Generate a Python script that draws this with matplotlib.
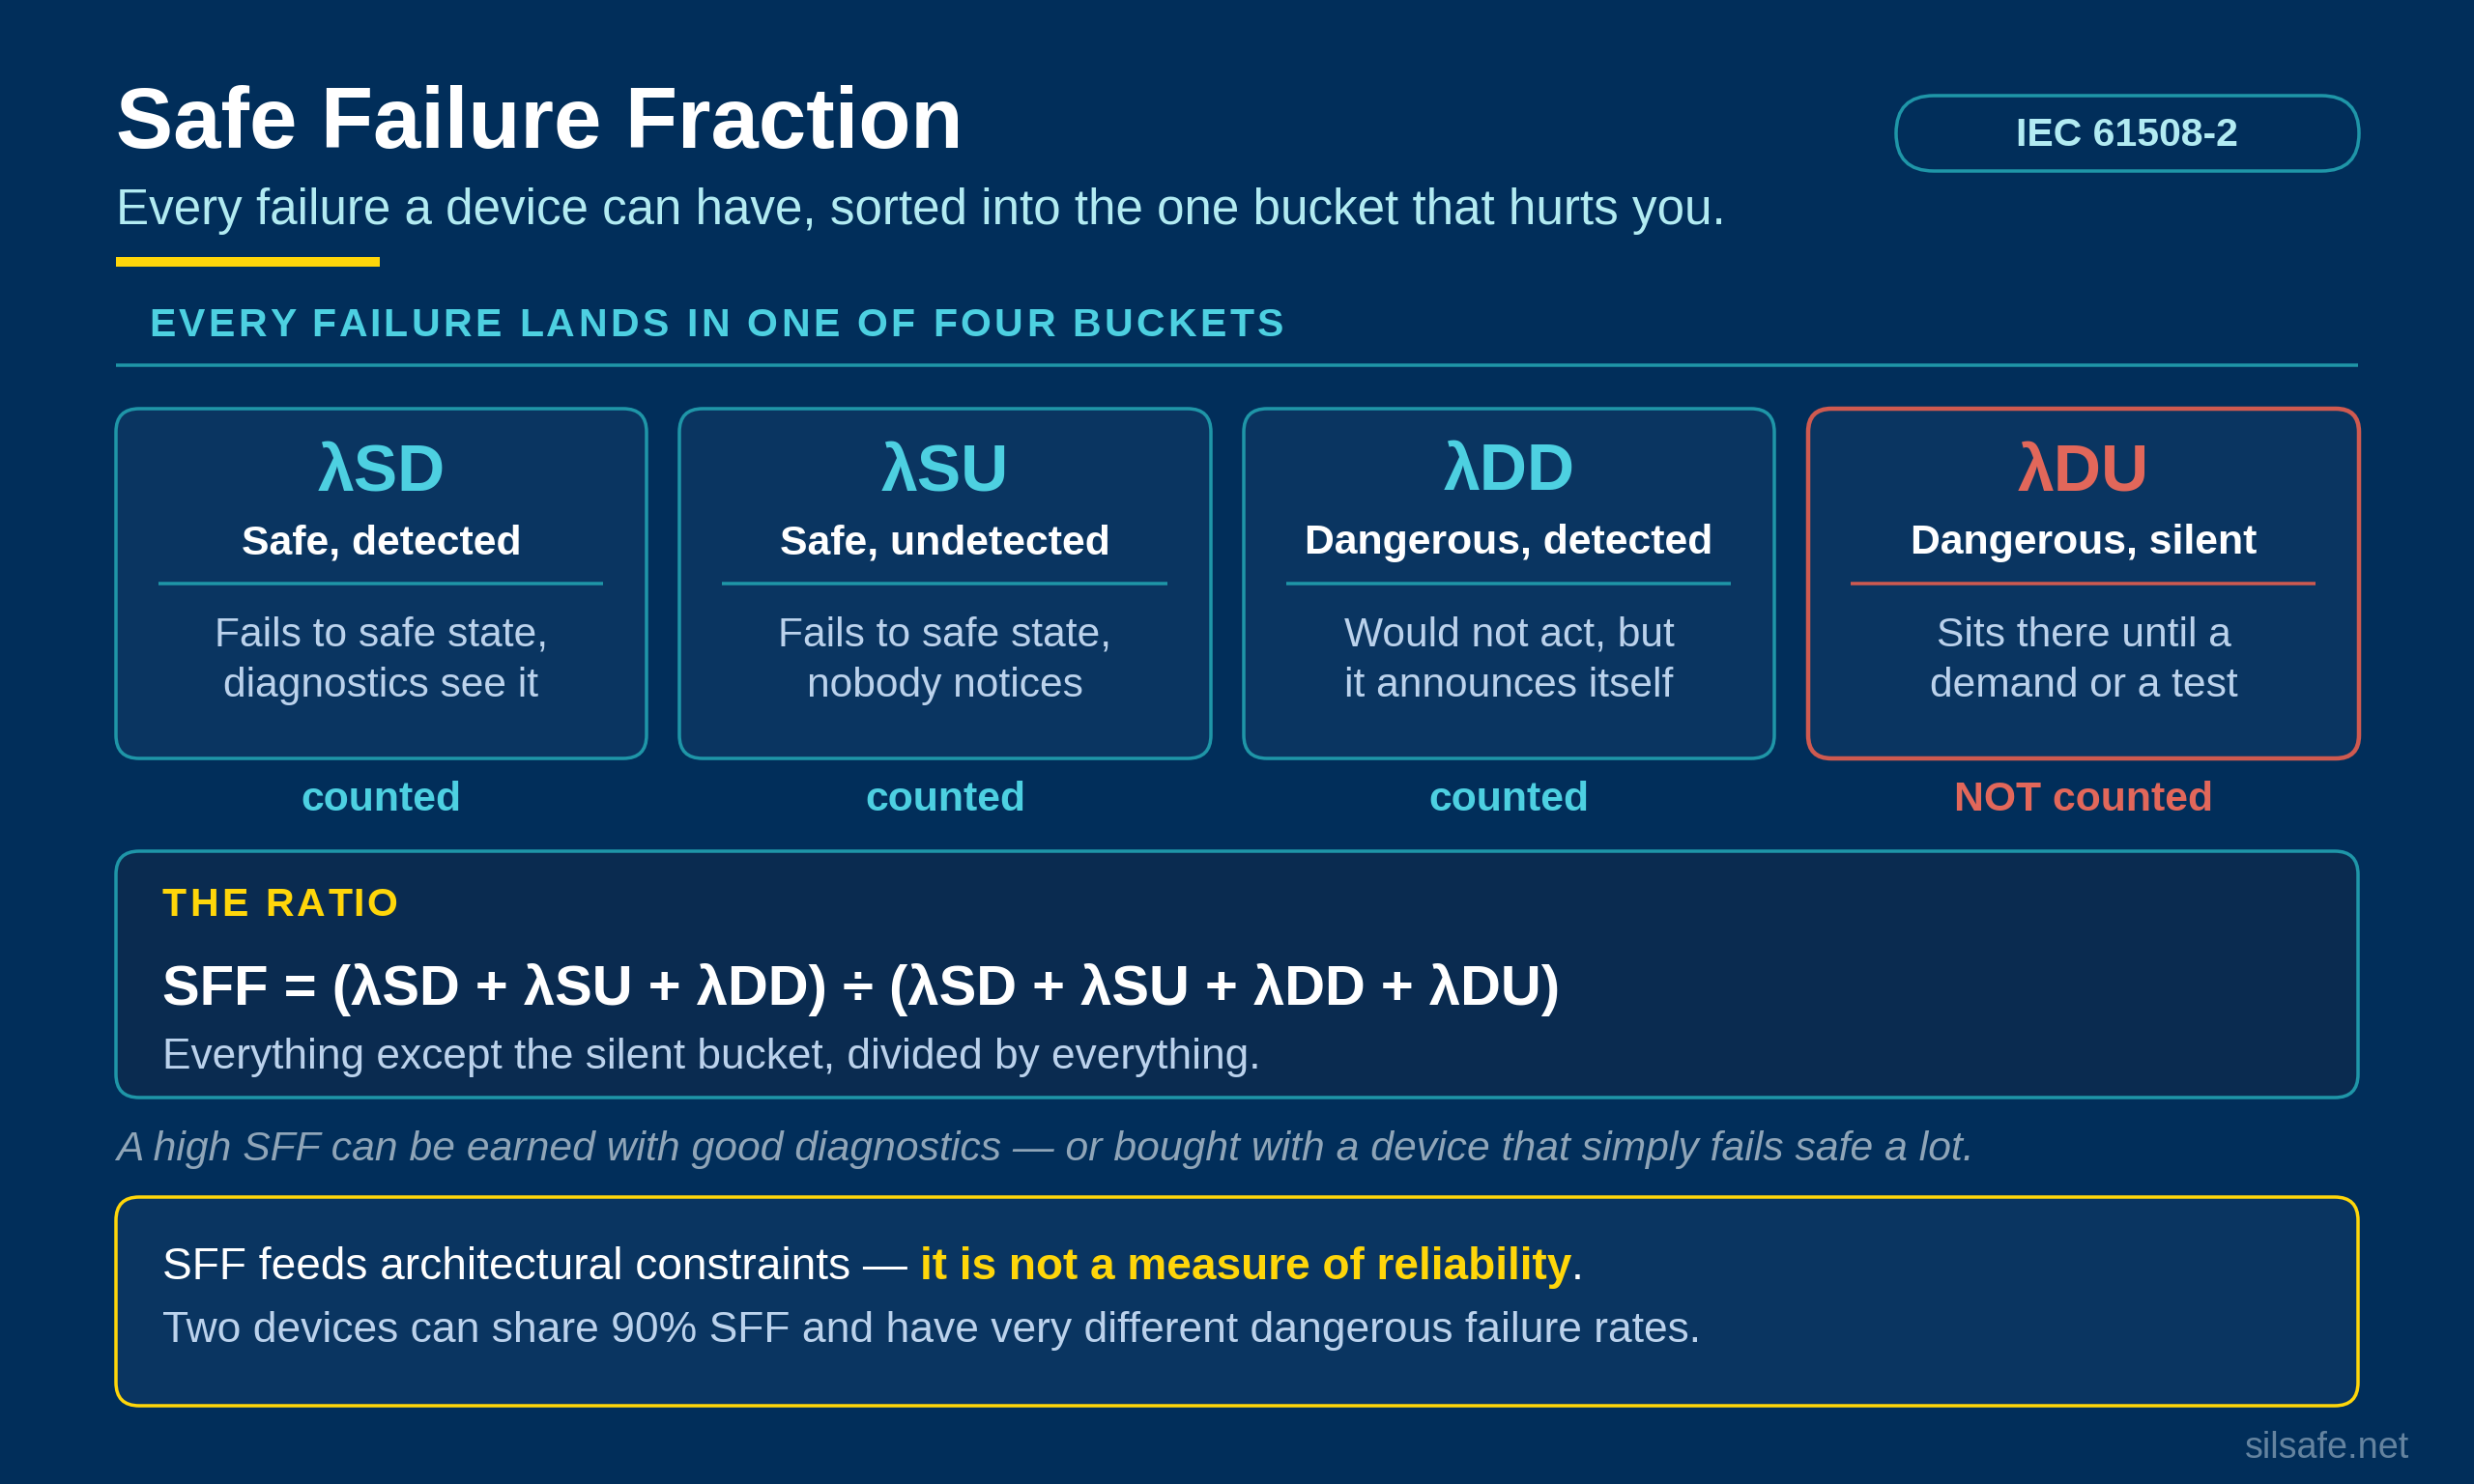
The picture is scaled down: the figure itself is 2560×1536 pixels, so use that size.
import matplotlib
matplotlib.use("Agg")
import matplotlib.pyplot as plt
from matplotlib.patches import FancyBboxPatch, Rectangle

plt.rcParams["font.family"] = ["Liberation Sans", "DejaVu Sans"]

symbols = ["λSD", "λSU", "λDD", "λDU"]
names = ["Safe, detected", "Safe, undetected", "Dangerous, detected", "Dangerous, silent"]
descs = [
    "Fails to safe state,\ndiagnostics see it",
    "Fails to safe state,\nnobody notices",
    "Would not act, but\nit announces itself",
    "Sits there until a\ndemand or a test",
]
counted = ["counted", "counted", "counted", "NOT counted"]
card_lefts = [120, 703, 1287, 1871]
card_rights = [669, 1253, 1836, 2441]

BG = "#012e5a"
CARD = "#0a3561"
DARK = "#0a2b50"
TEAL = "#1f96a8"
CYAN = "#4dd0e1"
PALE = "#b2ebf2"
DESC = "#bbd2ec"
YELLOW = "#ffd60a"
RED = "#e2675a"
RED_LINE = "#cf5a50"

fig = plt.figure(figsize=(25.6, 15.36), dpi=100, facecolor=BG)
ax = fig.add_axes([0, 0, 1, 1])
ax.set_xlim(0, 2560)
ax.set_ylim(1536, 0)
ax.axis("off")
renderer = fig.canvas.get_renderer()


def px(size):
    return size * 0.72


def box(x0, y0, x1, y1, face, edge, lw, radius=24):
    ax.add_patch(FancyBboxPatch(
        (x0 + radius, y0 + radius), x1 - x0 - 2 * radius, y1 - y0 - 2 * radius,
        boxstyle=f"round,pad={radius},rounding_size={radius}",
        facecolor=face, edgecolor=edge, linewidth=px(lw),
    ))


def label(x, y, s, size, color, **kw):
    kw.setdefault("va", "baseline")
    return ax.text(x, y, s, fontsize=px(size), color=color, **kw)


def advance(s, size, **kw):
    # padded so that spaces at the ends are measured too
    a = label(0, 0, "|" + s + "|", size, "w", **kw)
    b = label(0, 0, "||", size, "w", **kw)
    w = a.get_window_extent(renderer).width - b.get_window_extent(renderer).width
    a.remove()
    b.remove()
    return w


def spaced(x, y, s, size, color, gap, **kw):
    for i, ch in enumerate(s):
        label(x + advance(s[:i], size, **kw) + gap * i, y, ch, size, color, **kw)


# header
label(120, 153, "Safe Failure Fraction", 88.6, "white", fontweight="bold")
label(120, 232, "Every failure a device can have, sorted into the one bucket that hurts you.", 51.1, PALE)
ax.add_patch(Rectangle((120, 266), 273, 10, facecolor=YELLOW, edgecolor="none"))
box(1962, 99, 2441, 177, BG, TEAL, 3.5, radius=39)
label(2201, 151, "IEC 61508-2", 41, PALE, fontweight="bold", ha="center")

spaced(154, 348, "EVERY FAILURE LANDS IN ONE OF FOUR BUCKETS", 41, CYAN, 3.4, fontweight="bold")
ax.plot([120, 2440], [378, 378], color=TEAL, lw=px(3.5), solid_capstyle="butt")

# four buckets
for i in range(4):
    hot = i == 3
    x0, x1 = card_lefts[i], card_rights[i]
    cx = (x0 + x1) / 2
    box(x0, 423, x1, 785, CARD, RED_LINE if hot else TEAL, 4.5 if hot else 3.5)
    label(cx, 507, symbols[i], 68, RED if hot else CYAN, fontweight="bold", ha="center")
    label(cx, 573, names[i], 42.8, "white", fontweight="bold", ha="center")
    ax.plot([x0 + 44, x1 - 45], [604, 604], color=RED_LINE if hot else TEAL, lw=px(3.5), solid_capstyle="butt")
    line_a, line_b = descs[i].split("\n")
    label(cx, 669, line_a, 42.5, DESC, ha="center")
    label(cx, 721, line_b, 42.5, DESC, ha="center")
    label(cx, 839, counted[i], 42.8, RED if hot else CYAN, fontweight="bold", ha="center")

# ratio
box(120, 881, 2440, 1136, DARK, TEAL, 3.5)
spaced(168, 948, "THE RATIO", 41, YELLOW, 3.2, fontweight="bold")
label(168, 1040, "SFF = (λSD + λSU + λDD) ÷ (λSD + λSU + λDD + λDU)", 58, "white", fontweight="bold")
label(168, 1106, "Everything except the silent bucket, divided by everything.", 44.3, DESC)

label(120, 1201, "A high SFF can be earned with good diagnostics — or bought with a device that simply fails safe a lot.",
      42.6, "#8fa5b8", fontstyle="italic")

# callout
box(120, 1239, 2440, 1455, CARD, YELLOW, 3.5)
x = 168
parts = [("SFF feeds architectural constraints — ", "white", "normal"),
         ("it is not a measure of reliability", YELLOW, "bold"),
         (".", "white", "normal")]
for text, color, weight in parts:
    label(x, 1324, text, 46, color, fontweight=weight)
    x += advance(text, 46, fontweight=weight)
label(168, 1389, "Two devices can share 90% SFF and have very different dangerous failure rates.", 44.4, DESC)

label(2493, 1509, "silsafe.net", 37.8, "#64839f", ha="right")

fig.savefig("out.png", dpi=100, facecolor=BG)
